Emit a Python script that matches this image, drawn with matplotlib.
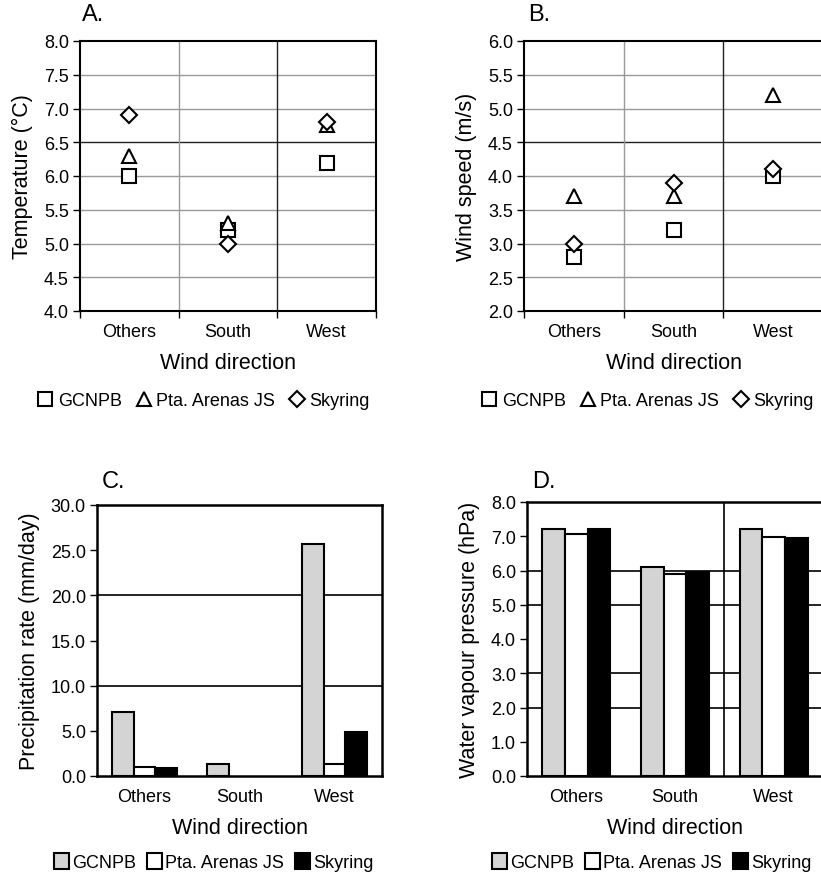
import numpy as np
import matplotlib
matplotlib.use("Agg")
import matplotlib.pyplot as plt
from matplotlib.lines import Line2D
from matplotlib.patches import Patch

plt.rcParams['font.family'] = ['Liberation Sans', 'DejaVu Sans']

directions = ['Others', 'South', 'West']
stations = ['GCNPB', 'Pta. Arenas JS', 'Skyring']

# A. temperature (degC)
temp_gcnpb = [6.0, 5.2, 6.2]
temp_pta = [6.3, 5.3, 6.75]
temp_sky = [6.9, 5.0, 6.8]

# B. wind speed (m/s)
wind_gcnpb = [2.8, 3.2, 4.0]
wind_pta = [3.7, 3.7, 5.2]
wind_sky = [3.0, 3.9, 4.1]

# C. precipitation rate (mm/day)
prec_gcnpb = [7.1, 1.3, 25.7]
prec_pta = [1.0, 0.0, 1.3]
prec_sky = [0.85, 0.0, 4.85]

# D. water vapour pressure (hPa)
vap_gcnpb = [7.2, 6.1, 7.2]
vap_pta = [7.07, 5.9, 6.98]
vap_sky = [7.22, 5.95, 6.95]

W, H = 821, 878
fig = plt.figure(figsize=(W / 100, H / 100), dpi=100)


def px_axes(left, top, right, bottom):
    return fig.add_axes([left / W, 1 - bottom / H, (right - left) / W, (bottom - top) / H])


x = np.arange(1, 4)
TICK_FS = 13
LAB_FS = 15.5

markers = [('s', 10), ('^', 10), ('D', 8.5)]


def scatter_panel(ax, series, ylim, yticks, ylabel, dark_h, dark_v):
    for v in yticks[1:-1]:
        ax.axhline(v, color='#222222' if v in dark_h else '#999999', lw=1, zorder=0)
    for b in [1.5, 2.5]:
        ax.axvline(b, color='#222222' if b in dark_v else '#999999', lw=1, zorder=0)
    for vals, (m, ms) in zip(series, markers):
        ax.plot(x, vals, linestyle='none', marker=m, ms=ms, mfc='white', mec='black', mew=1.5, zorder=3)
    ax.set_xlim(0.5, 3.5)
    ax.set_ylim(*ylim)
    ax.set_yticks(yticks)
    ax.set_yticklabels(['%.1f' % v for v in yticks], fontsize=TICK_FS)
    ax.set_xticks(x)
    ax.set_xticklabels(directions, fontsize=TICK_FS)
    ax.set_xticks([0.5, 1.5, 2.5, 3.5], minor=True)
    ax.tick_params(axis='x', which='major', length=0, pad=9)
    ax.tick_params(axis='x', which='minor', length=5, width=1)
    ax.tick_params(axis='y', length=5, width=1, pad=3)
    ax.set_ylabel(ylabel, fontsize=LAB_FS, labelpad=8)
    ax.set_xlabel('Wind direction', fontsize=LAB_FS, labelpad=8)
    for s in ax.spines.values():
        s.set_linewidth(1.5)


def bar_panel(ax, series, ylim, yticks, ylabel, grid_h, dark_v):
    for v in grid_h:
        ax.axhline(v, color='black', lw=1.2, zorder=0)
    for b in dark_v:
        ax.axvline(b, color='black', lw=1.2, zorder=0)
    bw = 0.23
    colors = ['#d4d4d4', 'white', 'black']
    for i, (vals, c) in enumerate(zip(series, colors)):
        vals = np.array(vals)
        keep = vals > 0
        ax.bar(x[keep] + (i - 1) * bw, vals[keep], width=bw, color=c, edgecolor='black',
               linewidth=1.5, zorder=2)
    ax.set_xlim(0.5, 3.5)
    ax.set_ylim(*ylim)
    ax.set_yticks(yticks)
    ax.set_yticklabels(['%.1f' % v for v in yticks], fontsize=TICK_FS)
    ax.set_xticks(x)
    ax.set_xticklabels(directions, fontsize=TICK_FS)
    ax.tick_params(axis='x', length=0, pad=9)
    ax.tick_params(axis='y', length=5, width=1, pad=3)
    ax.set_ylabel(ylabel, fontsize=LAB_FS, labelpad=8)
    ax.set_xlabel('Wind direction', fontsize=LAB_FS, labelpad=8)
    for s in ax.spines.values():
        s.set_linewidth(1.8)


axA = px_axes(80, 42, 376, 312)
scatter_panel(axA, [temp_gcnpb, temp_pta, temp_sky], (4.0, 8.0), np.arange(4.0, 8.01, 0.5),
              'Temperature (°C)', [6.5], [2.5])

axB = px_axes(524, 42, 823, 312)
scatter_panel(axB, [wind_gcnpb, wind_pta, wind_sky], (2.0, 6.0), np.arange(2.0, 6.01, 0.5),
              'Wind speed (m/s)', [4.5], [2.5])

axC = px_axes(97, 506, 382, 777)
bar_panel(axC, [prec_gcnpb, prec_pta, prec_sky], (0, 30), np.arange(0, 30.1, 5),
          'Precipitation rate (mm/day)', [10, 20], [])

axD = px_axes(527, 503, 823, 777)
bar_panel(axD, [vap_gcnpb, vap_pta, vap_sky], (0, 8), np.arange(0, 8.1, 1),
          'Water vapour pressure (hPa)', [2, 3, 5, 6], [2.5])

# panel letters
for lbl, px, py in [('A.', 82, 15), ('B.', 528, 15), ('C.', 102, 482), ('D.', 532, 482)]:
    fig.text(px / W, 1 - py / H, lbl, fontsize=17, va='center', ha='left')

# legends
mk_handles = [Line2D([], [], linestyle='none', marker=m, ms=ms, mfc='white', mec='black', mew=1.5)
              for m, ms in markers]
for cx in [204, 648]:
    fig.legend(mk_handles, stations, loc='center', bbox_to_anchor=(cx / W, 1 - 402 / H),
               ncol=3, frameon=False, fontsize=13, handlelength=0.8, handletextpad=0.3,
               columnspacing=0.8, borderpad=0)

bar_handles = [Patch(facecolor=c, edgecolor='black', linewidth=1.5) for c in ['#d4d4d4', 'white', 'black']]
for cx in [214, 652]:
    fig.legend(bar_handles, stations, loc='center', bbox_to_anchor=(cx / W, 1 - 863 / H),
               ncol=3, frameon=False, fontsize=13, handlelength=0.8, handleheight=1.0,
               handletextpad=0.2, columnspacing=0.6, borderpad=0)

fig.savefig('out.png', dpi=100)
